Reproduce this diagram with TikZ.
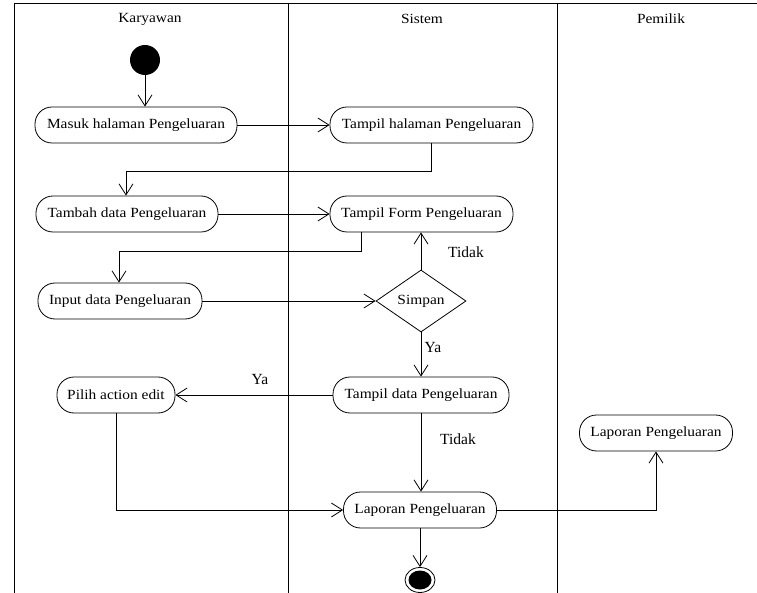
\documentclass[tikz,border=0pt]{standalone}
\usepackage{fontspec}
\setmainfont{Liberation Serif}[FakeStretch=1.1]
\newfontfamily\lblfont{Liberation Serif}
\usetikzlibrary{arrows.meta,shapes.geometric}
\begin{document}
\begin{tikzpicture}[x=1pt,y=-1pt,
  lane/.style={line width=1pt,black},
  act/.style={draw,line width=0.8pt,rounded corners=17pt,minimum height=36pt,
    inner sep=0pt,font=\fontsize{14}{16}\selectfont},
  dec/.style={draw,line width=0.8pt,diamond,minimum width=90pt,minimum height=62pt,
    inner sep=0pt,font=\fontsize{14}{16}\selectfont},
  head/.style={font=\fontsize{14}{16}\selectfont},
  lbl/.style={font=\lblfont\fontsize{15.5}{17}\selectfont},
  arr/.style={line width=0.8pt,-{Straight Barb[length=11pt,width=14pt,line width=0.8pt]}}]
\useasboundingbox (0,0) rectangle (757,593);

% swimlanes
\draw[lane] (14,593) -- (14,4) -- (757,4);
\draw[lane] (288,4) -- (288,593);
\draw[lane] (557,4) -- (557,593);
\node[head] (hk) at (150,19) {Karyawan};
\node[head] (hs) at (422,19) {Sistem};
\node[head] (hp) at (661,19) {Pemilik};

% activities
\node[circle,fill=black,minimum size=30pt,inner sep=0pt] (start) at (145,60) {};
\node[act,minimum width=202pt] (masuk) at (136,125) {Masuk halaman Pengeluaran};
\node[act,minimum width=203pt] (tampilhal) at (431.5,125) {Tampil halaman Pengeluaran};
\node[act,minimum width=182pt] (tambah) at (127,214) {Tambah data Pengeluaran};
\node[act,minimum width=183pt] (form) at (421.5,214) {Tampil Form Pengeluaran};
\node[act,minimum width=164pt] (input) at (120,301) {Input data Pengeluaran};
\node[dec] (simpan) at (421,301) {Simpan};
\node[act,minimum width=176pt] (tampildata) at (421,395) {Tampil data Pengeluaran};
\node[act,minimum width=118pt] (pilih) at (116,395) {Pilih action edit};
\node[act,minimum width=153pt] (lapsis) at (420,510) {Laporan Pengeluaran};
\node[act,minimum width=153pt] (lappem) at (656,433) {Laporan Pengeluaran};
\node[ellipse,draw,line width=0.8pt,minimum width=30pt,minimum height=25pt,inner sep=0pt] (end) at (420,580) {};
\fill (end.center) ellipse [x radius=11.5pt,y radius=9.5pt];

% flows
\draw[arr] (start) -- (start |- masuk.north);
\draw[arr] (masuk) -- (tampilhal);
\draw[arr] (tampilhal.south) -- ++(0,28) -| ([xshift=-1pt]tambah.north);
\draw[arr] (tambah) -- (form);
\draw[arr] ([xshift=-60.5pt]form.south) -- ++(0,19) -| ([xshift=-1pt]input.north);
\draw[arr] (input) -- (simpan.west);
\draw[arr] (simpan.north) -- (form.south -| simpan.north);
\draw[arr] (simpan.south) -- (tampildata.north);
\draw[arr] (tampildata) -- (pilih);
\draw[arr] (tampildata.south) -- (tampildata.south |- lapsis.north);
\draw[arr] (pilih.south) |- (lapsis.west);
\draw[arr] (lapsis.east) -| (lappem.south);
\draw[arr] (lapsis.south) -- (end.north);

% guard labels
\node[lbl] (t1) at (466,252) {Tidak};
\node[lbl] (y1) at (433,348) {Ya};
\node[lbl] (y2) at (260,380) {Ya};
\node[lbl] (t2) at (458,439) {Tidak};
\end{tikzpicture}
\end{document}
